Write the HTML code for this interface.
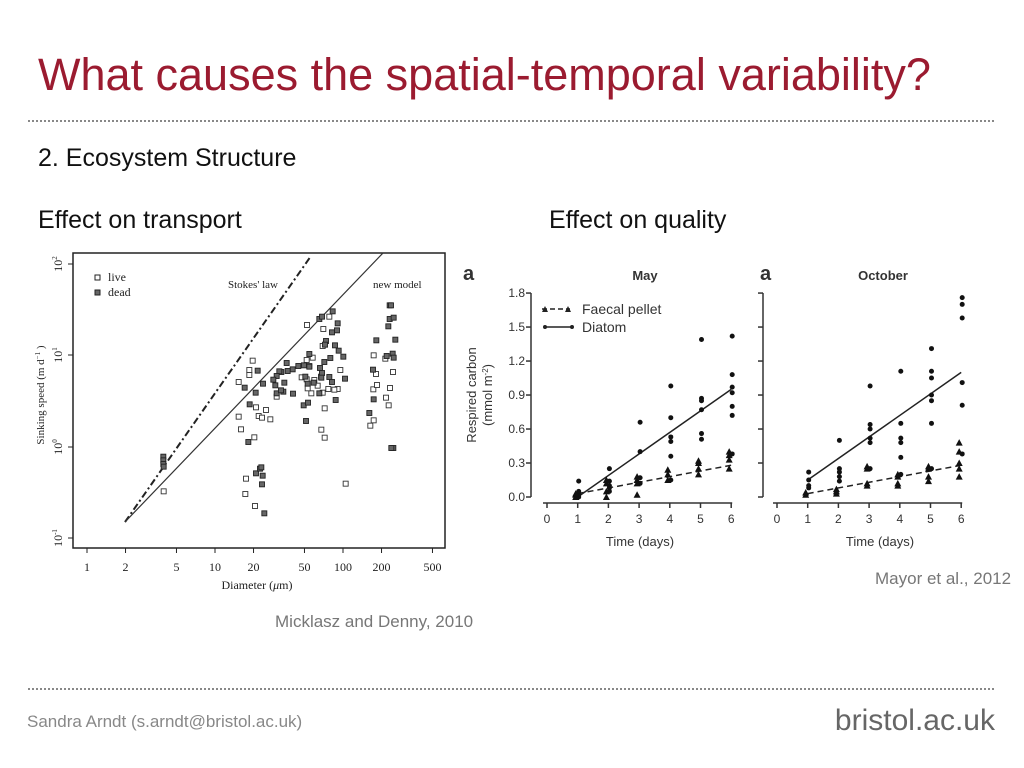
<!DOCTYPE html>
<html><head><meta charset="utf-8"><style>
body{margin:0;width:1024px;height:768px;background:#fff;overflow:hidden;font-family:"Liberation Sans",sans-serif}
</style></head><body>
<svg id="s" width="1024" height="768" xmlns="http://www.w3.org/2000/svg" style="position:absolute;left:0;top:0">
<text x="38" y="90" font-size="45" fill="#9b1b30">What causes the spatial-temporal variability?</text>
<line x1="28" y1="121" x2="996" y2="121" stroke="#888" stroke-width="2" stroke-dasharray="2,2"/>
<text x="38" y="166" font-size="25" fill="#111">2. Ecosystem Structure</text>
<text x="38" y="228" font-size="25" fill="#111">Effect on transport</text>
<text x="549" y="228" font-size="25" fill="#111">Effect on quality</text>
<text x="275" y="627" font-size="17" fill="#777">Micklasz and Denny, 2010</text>
<text x="875" y="584" font-size="17" fill="#777">Mayor et al., 2012</text>
<line x1="28" y1="689" x2="996" y2="689" stroke="#888" stroke-width="2" stroke-dasharray="2,2"/>
<text x="27" y="727" font-size="17" fill="#888">Sandra Arndt (s.arndt@bristol.ac.uk)</text>
<text x="995" y="730" font-size="30" fill="#666" text-anchor="end">bristol.ac.uk</text>

<g font-family="Liberation Serif,serif" fill="#222">
<rect x="73" y="253" width="372" height="295" fill="none" stroke="#222" stroke-width="1.5"/>
<line x1="125" y1="522" x2="311" y2="256" stroke="#222" stroke-width="2" stroke-dasharray="7,3,2,3"/>
<line x1="125" y1="522" x2="383" y2="253" stroke="#333" stroke-width="1.2"/>
<text x="228" y="288" font-size="11">Stokes' law</text>
<text x="373" y="288" font-size="11">new model</text>
<rect x="95" y="275" width="5" height="5" fill="none" stroke="#222"/>
<rect x="95" y="290" width="5" height="5" fill="#666" stroke="#222"/>
<text x="108" y="281" font-size="12">live</text>
<text x="108" y="296" font-size="12">dead</text>
<text x="257" y="589" font-size="12" text-anchor="middle">Diameter (<tspan font-style="italic">μ</tspan>m)</text>
<text transform="translate(44,395) rotate(-90)" font-size="11" text-anchor="middle">Sinking speed (m d<tspan font-size="7" dy="-4">−1</tspan><tspan dy="4"> )</tspan></text>
<g id="lx" font-size="12" text-anchor="middle"></g>
<g id="pts"></g>
</g>

<g font-family="Liberation Sans,sans-serif" fill="#333">
<text x="463" y="280" font-size="20" font-weight="bold">a</text>
<text x="645" y="280" font-size="13" font-weight="bold" text-anchor="middle">May</text>
<text x="760" y="280" font-size="20" font-weight="bold">a</text>
<text x="883" y="280" font-size="13" font-weight="bold" text-anchor="middle">October</text>
<text transform="translate(476,395) rotate(-90)" font-size="13" text-anchor="middle">Respired carbon</text>
<text transform="translate(492,395) rotate(-90)" font-size="13" text-anchor="middle">(mmol m<tspan font-size="8" dy="-4">-2</tspan><tspan dy="4">)</tspan></text>
<text x="640" y="546" font-size="13" text-anchor="middle">Time (days)</text>
<text x="880" y="546" font-size="13" text-anchor="middle">Time (days)</text>
<line x1="542" y1="309" x2="570" y2="309" stroke="#222" stroke-width="1.5" stroke-dasharray="5,3"/>
<polygon points="542,312 545,306 548,312" fill="#222"/><polygon points="565,312 568,306 571,312" fill="#222"/>
<text x="582" y="314" font-size="14">Faecal pellet</text>
<line x1="544" y1="327" x2="572" y2="327" stroke="#222" stroke-width="1.5"/>
<circle cx="545" cy="327" r="2" fill="#222"/><circle cx="572" cy="327" r="2" fill="#222"/>
<text x="582" y="332" font-size="14">Diatom</text>
<g id="rc" font-size="12"></g>
</g>
</svg>
<script>
var NS="http://www.w3.org/2000/svg",s=document.getElementById('s');
function el(p,t,a,txt){var e=document.createElementNS(NS,t);for(var k in a)e.setAttribute(k,a[k]);if(txt!==undefined)e.textContent=txt;p.appendChild(e);return e;}
var lx=document.getElementById('lx');
[1,2,5,10,20,50,100,200,500].forEach(function(d){var x=87+128*Math.log10(d);el(lx,'line',{x1:x,y1:548,x2:x,y2:553,stroke:'#222'});el(lx,'text',{x:x,y:571},d);});
[[2,264],[1,355],[0,447],[-1,538]].forEach(function(p){el(lx,'line',{x1:68,y1:p[1],x2:73,y2:p[1],stroke:'#222'});var t=el(lx,'text',{transform:'translate(62,'+p[1]+') rotate(-90)'},'10');el(t,'tspan',{'font-size':7,dy:-5},p[0]);});
var live=[[813,255],[862,267],[880,230],[860,318],[650,362],[640,390],[640,405],[608,426],[608,530],[615,568],[655,592],[660,502],[668,528],[678,533],[690,510],[703,538],[630,716],[628,762],[657,798],[383,754],[722,470],[830,353],[820,378],[797,412],[812,418],[845,437],[826,460],[866,505],[856,569],[866,593],[905,447],[913,390],[929,731],[1013,346],[1020,402],[1012,448],[1023,435],[1003,557],[1013,541],[1048,356],[1071,396],[1062,444],[1050,473],[1058,496],[835,420],[815,445],[855,410],[860,458],[877,447],[895,449],[812,360]];
var dead=[[850,237],[858,230],[890,214],[905,250],[903,271],[888,277],[870,303],[867,314],[897,316],[908,332],[922,350],[927,416],[883,354],[865,366],[852,384],[858,399],[856,413],[880,411],[888,426],[820,342],[804,376],[787,378],[770,388],[752,369],[755,393],[736,396],[730,394],[722,408],[712,419],[718,436],[742,455],[745,428],[722,460],[735,451],[771,461],[820,380],[808,410],[815,431],[803,496],[816,488],[810,543],[833,428],[850,460],[665,392],[681,431],[659,458],[641,493],[626,443],[637,606],[660,700],[672,686],[676,682],[680,707],[678,733],[685,820],[382,650],[382,661],[382,672],[383,680],[899,480],[1061,196],[1065,196],[1061,237],[1073,233],[1057,259],[1021,301],[1078,299],[1070,341],[1052,348],[1073,353],[1011,389],[1013,478],[1000,519],[1072,624],[1066,624]];
var pts=document.getElementById('pts');
live.forEach(function(p){el(pts,'rect',{x:36+p[0]/3-2.5,y:240+p[1]/3-2.5,width:5,height:5,fill:'#fff',stroke:'#333','stroke-width':0.9});});
dead.forEach(function(p){el(pts,'rect',{x:36+p[0]/3-2.5,y:240+p[1]/3-2.5,width:5,height:5,fill:'#666',stroke:'#222','stroke-width':0.9});});
var rc=document.getElementById('rc');
function panel(ax,x0,ticks,D,T,dl,tl){
 var X=function(d){return x0+30.7*d},Y=function(v){return 497-v*113.3};
 el(rc,'line',{x1:ax,y1:293,x2:ax,y2:497,stroke:'#333','stroke-width':1.5});
 for(var v=0;v<=1.8001;v+=0.3){var y=Y(v);el(rc,'line',{x1:ax-5,y1:y,x2:ax,y2:y,stroke:'#333','stroke-width':1.5});if(ticks)el(rc,'text',{x:ax-6,y:y+4,'text-anchor':'end'},v.toFixed(1));}
 el(rc,'line',{x1:X(0)-4,y1:503,x2:X(6)+1,y2:503,stroke:'#333','stroke-width':1.5});
 for(var d=0;d<=6;d++){el(rc,'line',{x1:X(d),y1:503,x2:X(d),y2:508,stroke:'#333','stroke-width':1.5});el(rc,'text',{x:X(d),y:523,'text-anchor':'middle'},d);}
 el(rc,'line',{x1:X(1),y1:Y(dl[0]),x2:X(6),y2:Y(dl[1]),stroke:'#222','stroke-width':1.5});
 el(rc,'line',{x1:X(1),y1:Y(tl[0]),x2:X(6),y2:Y(tl[1]),stroke:'#222','stroke-width':1.5,'stroke-dasharray':'6,4'});
 D.forEach(function(a,i){a.forEach(function(v){el(rc,'circle',{cx:X(i+1)+1,cy:Y(v),r:2.5,fill:'#111'});});});
 T.forEach(function(a,i){a.forEach(function(v){var x=X(i+1)-2,y=Y(v);el(rc,'polygon',{points:(x-3.5)+','+(y+3)+' '+x+','+(y-3.5)+' '+(x+3.5)+','+(y+3),fill:'#111'});});});
}
panel(531,547,true,[[0,0.02,0.05,0.14],[0.05,0.1,0.14,0.25,0.08],[0.66,0.4,0.17,0.12],[0.98,0.7,0.53,0.49,0.36,0.15],[1.39,0.87,0.85,0.77,0.56,0.51],[1.42,1.08,0.97,0.92,0.8,0.72,0.38]],
[[0,0.02,0.03],[0,0.05,0.12,0.15],[0.02,0.12,0.15,0.18],[0.15,0.2,0.24],[0.2,0.25,0.3,0.32],[0.25,0.33,0.37,0.4]],[0,0.95],[0.03,0.28]);
panel(763,777,false,[[0.08,0.1,0.15,0.22],[0.5,0.25,0.22,0.18,0.14],[0.98,0.64,0.6,0.52,0.48,0.25],[1.11,0.65,0.52,0.48,0.35,0.2],[1.31,1.11,1.05,0.9,0.85,0.65,0.25],[1.76,1.7,1.58,1.01,0.81,0.38]],
[[0.02,0.04],[0.03,0.05,0.07],[0.1,0.12,0.25,0.27],[0.1,0.12,0.18,0.2],[0.14,0.18,0.25,0.27],[0.18,0.25,0.3,0.4,0.48]],[0.15,1.1],[0.03,0.28]);
</script>
</body></html>
